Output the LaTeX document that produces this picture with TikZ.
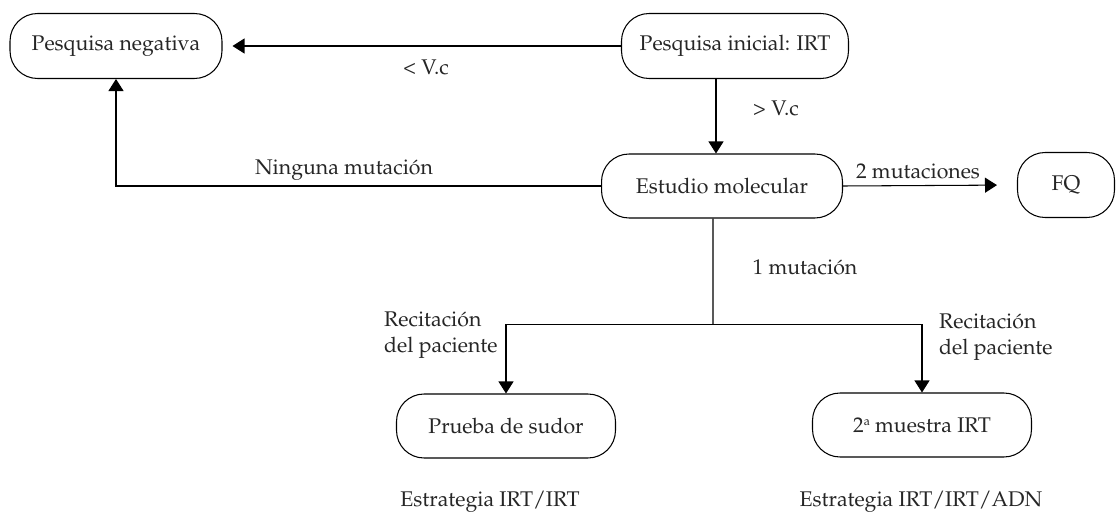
\documentclass[tikz,border=0pt]{standalone}
\usepackage[T1]{fontenc}
\usepackage{mathpazo}
\usepackage{tikz}
\usetikzlibrary{arrows.meta,calc}

\begin{document}
\begin{tikzpicture}[
    x=0.02cm, y=-0.02cm,                 % pixel-like grid
    every node/.style={
        font=\fontsize{12.1}{14.5}\selectfont,
        text=black!85
    },
    stage/.style={
        draw,
        rectangle,
        rounded corners=0.55cm,
        line width=0.6pt,
        minimum height=1.3cm,
        align=center
    },
    arr/.style={-{Triangle[length=0.24cm,width=0.3cm]}, line width=0.6pt},
    lbl/.style={align=left}
]
\useasboundingbox (0,0) rectangle (1117,517);

\node[stage, minimum width=4.24cm] (neg) at (116,46) {Pesquisa negativa};
\node[stage, minimum width=4.54cm] (ini) at (735,46) {Pesquisa inicial: IRT};
\node[stage, minimum width=4.82cm, minimum height=1.28cm] (mol) at (722,186) {Estudio molecular};
\node[stage, minimum width=1.94cm, minimum height=1.3cm] (fq) at (1066,185) {FQ};
\node[stage, minimum width=4.38cm, minimum height=1.28cm] (sud) at (506,426) {Prueba de sudor};
\node[stage, minimum width=4.38cm, minimum height=1.28cm] (irt) at (922,425)
    {2\raisebox{0.7ex}{\fontsize{7}{8}\selectfont a} muestra IRT};

% connectors
\draw[arr, shorten >=0.2cm] (ini.west) -- (neg.east);
\draw[arr] ([xshift=-0.38cm]ini.south) -- ([xshift=-0.38cm]ini.south |- mol.north);
\draw[arr] (mol.west) -| (neg.south);
\draw[arr, shorten >=0.4cm] (mol.east) -- (fq.west);
\coordinate (split) at ($(mol.south)+(-9,106)$);
\draw[line width=0.6pt] ([xshift=-0.18cm]mol.south) -- (split);
\draw[arr] (split) -| (sud.north);
\draw[arr] (split) -| (irt.north);

% labels
\node (lt) at (426,67) {\textless{} V.c};
\node (gt) at (776,108) {\textgreater{} V.c};
\node (none) at (344,170) {Ninguna mutaci\'on};
\node (two) at (918,171) {2 mutaciones};
\node (one) at (805,267) {1 mutaci\'on};
\node[lbl, anchor=west] (recl) at (378,335) {Recitaci\'on\\del paciente};
\node[lbl, anchor=west] (recr) at (933,337) {Recitaci\'on\\del paciente};
\node (estl) at (490,502) {Estrategia IRT/IRT};
\node (estr) at (921,502) {Estrategia IRT/IRT/ADN};

\end{tikzpicture}
\end{document}
